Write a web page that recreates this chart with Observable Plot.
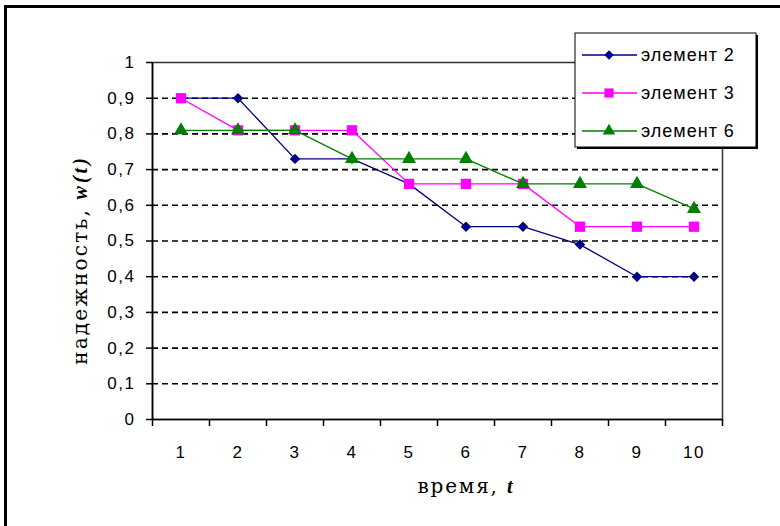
<!DOCTYPE html>
<html>
<head>
<meta charset="utf-8">
<script src="https://cdn.jsdelivr.net/npm/d3@7"></script>
<script src="https://cdn.jsdelivr.net/npm/@observablehq/plot@0.6"></script>
<style>
  html, body { margin: 0; padding: 0; background: #fff; overflow: hidden; }
  #wrap { position: relative; width: 780px; height: 526px; overflow: hidden; background: #fff; }
  #frame { position: absolute; left: 4px; top: 5px; width: 900px; height: 700px; border-left: 3px solid #000; border-top: 3px solid #000; }
  #chart { position: absolute; left: 0; top: 0; }
  #over { position: absolute; left: 0; top: 0; }
  g[aria-label="y-axis tick label"] text, g[aria-label="x-axis tick label"] text { letter-spacing: 1.5px; }
  .slab { font-family: "DejaVu Serif", serif; }
</style>
</head>
<body>
<div id="wrap">
  <div id="frame"></div>
  <div id="chart"></div>
  <svg id="over" width="780" height="526"></svg>
</div>
<script>
// ---- data ----
const times = [1, 2, 3, 4, 5, 6, 7, 8, 9, 10];
const element2 = [0.90, 0.90, 0.73, 0.73, 0.66, 0.54, 0.54, 0.49, 0.40, 0.40];
const element3 = [0.90, 0.81, 0.81, 0.81, 0.66, 0.66, 0.66, 0.54, 0.54, 0.54];
const element6 = [0.81, 0.81, 0.81, 0.73, 0.73, 0.73, 0.66, 0.66, 0.66, 0.59];
const seriesNames = ["элемент 2", "элемент 3", "элемент 6"];
const seriesColors = ["#000080", "#ff00ff", "#008000"];
const seriesSymbols = ["diamond2", "square", "triangle"];
const seriesR = [4.7, 5.8, 5.2];
const yTicks = [0, 0.1, 0.2, 0.3, 0.4, 0.5, 0.6, 0.7, 0.8, 0.9, 1];
const yTickLabels = ["0", "0,1", "0,2", "0,3", "0,4", "0,5", "0,6", "0,7", "0,8", "0,9", "1"];
const yGrid = [0.1, 0.2, 0.3, 0.4, 0.5, 0.6, 0.7, 0.8, 0.9];
const xLabel = ["время, ", "t"];
const yLabel = ["надежность, ", "w(t)"];

const allSeries = [element2, element3, element6];
const rows = [];
allSeries.forEach((vals, s) => vals.forEach((v, i) => rows.push({t: times[i], v, s: seriesNames[s]})));
const boundaries = [times[0] - 0.5, ...times.map(t => t + 0.5)];

const W = 780, H = 526;
const mL = 152, mT = 62, mR = 58, mB = 107;
const tickFont = "'Liberation Sans', Arial, sans-serif";

const marks = [
  Plot.gridY(yGrid, {stroke: "#000", strokeOpacity: 1, strokeWidth: 1.6, strokeDasharray: "6,4"}),
  Plot.frame({stroke: "#333", strokeWidth: 1.5}),
  Plot.ruleX([boundaries[0]], {stroke: "#000", strokeWidth: 1.6}),
  Plot.ruleY([0], {stroke: "#000", strokeWidth: 1.6}),
  Plot.axisY({ticks: yTicks, tickFormat: d => yTickLabels[yTicks.indexOf(d)], tickSize: 6, tickPadding: 11,
    fontSize: 17, fontFamily: tickFont, stroke: "#000", strokeWidth: 1.5, color: "#000", label: null}),
  Plot.axisX({ticks: boundaries, tickFormat: () => "", tickSize: 7, stroke: "#000", strokeWidth: 1.5, label: null}),
  Plot.axisX({ticks: times, tickFormat: d => String(d), tickSize: 0, tickPadding: 26,
    fontSize: 17, fontFamily: tickFont, color: "#000", label: null}),
];
seriesNames.forEach((name, s) => {
  const data = rows.filter(r => r.s === name);
  marks.push(Plot.line(data, {x: "t", y: "v", stroke: seriesColors[s], strokeWidth: 1.3}));
  marks.push(Plot.dot(data, {x: "t", y: "v", symbol: () => seriesSymbols[s], r: seriesR[s], fill: seriesColors[s], stroke: "none"}));
});

const chart = Plot.plot({
  width: W, height: H,
  marginLeft: mL, marginTop: mT, marginRight: mR, marginBottom: mB,
  style: {background: "transparent", color: "#000", overflow: "visible"},
  x: {type: "linear", domain: [boundaries[0], boundaries[boundaries.length - 1]], axis: null},
  y: {domain: [0, 1], axis: null},
  marks
});
document.getElementById("chart").appendChild(chart);

// ---- overlay: axis titles and legend ----
const over = d3.select("#over");
const serif = "'Liberation Serif', 'Times New Roman', serif";

const xt = over.append("text").attr("class", "slab").attr("x", 465).attr("y", 493).attr("text-anchor", "middle")
  .attr("font-size", 20).attr("fill", "#000");
xt.append("tspan").attr("letter-spacing", "1.8px").text(xLabel[0]);
xt.append("tspan").attr("font-family", serif).attr("font-weight", "bold").attr("font-style", "italic").text(xLabel[1]);

const yt = over.append("text").attr("class", "slab").attr("transform", "translate(87,260) rotate(-90)").attr("text-anchor", "middle")
  .attr("font-size", 20).attr("fill", "#000");
yt.append("tspan").attr("letter-spacing", "2.2px").text(yLabel[0]);
yt.append("tspan").attr("font-family", serif).attr("font-weight", "bold").attr("font-style", "italic").attr("letter-spacing", "3px").text(yLabel[1]);

// legend
const lx = 575, ly = 33, lw = 181, lh = 114;
over.append("rect").attr("x", lx + 2).attr("y", ly + 2).attr("width", lw).attr("height", lh).attr("fill", "#000");
over.append("rect").attr("x", lx).attr("y", ly).attr("width", lw).attr("height", lh).attr("fill", "#fff").attr("stroke", "#000").attr("stroke-width", 1);
const symMap = {diamond2: d3.symbolDiamond2, square: d3.symbolSquare, triangle: d3.symbolTriangle};
seriesNames.forEach((name, s) => {
  const cy = 55 + s * 38;
  over.append("line").attr("x1", 582).attr("x2", 637).attr("y1", cy).attr("y2", cy)
    .attr("stroke", seriesColors[s]).attr("stroke-width", 1.3);
  over.append("path").attr("transform", `translate(609,${cy})`)
    .attr("d", d3.symbol(symMap[seriesSymbols[s]], Math.PI * seriesR[s] * seriesR[s] * 0.8)())
    .attr("fill", seriesColors[s]);
  over.append("text").attr("x", 641).attr("y", cy).attr("dy", "0.36em")
    .attr("font-family", tickFont).attr("font-size", 18).attr("letter-spacing", "1px").attr("fill", "#000").text(name);
});
</script>
</body>
</html>
